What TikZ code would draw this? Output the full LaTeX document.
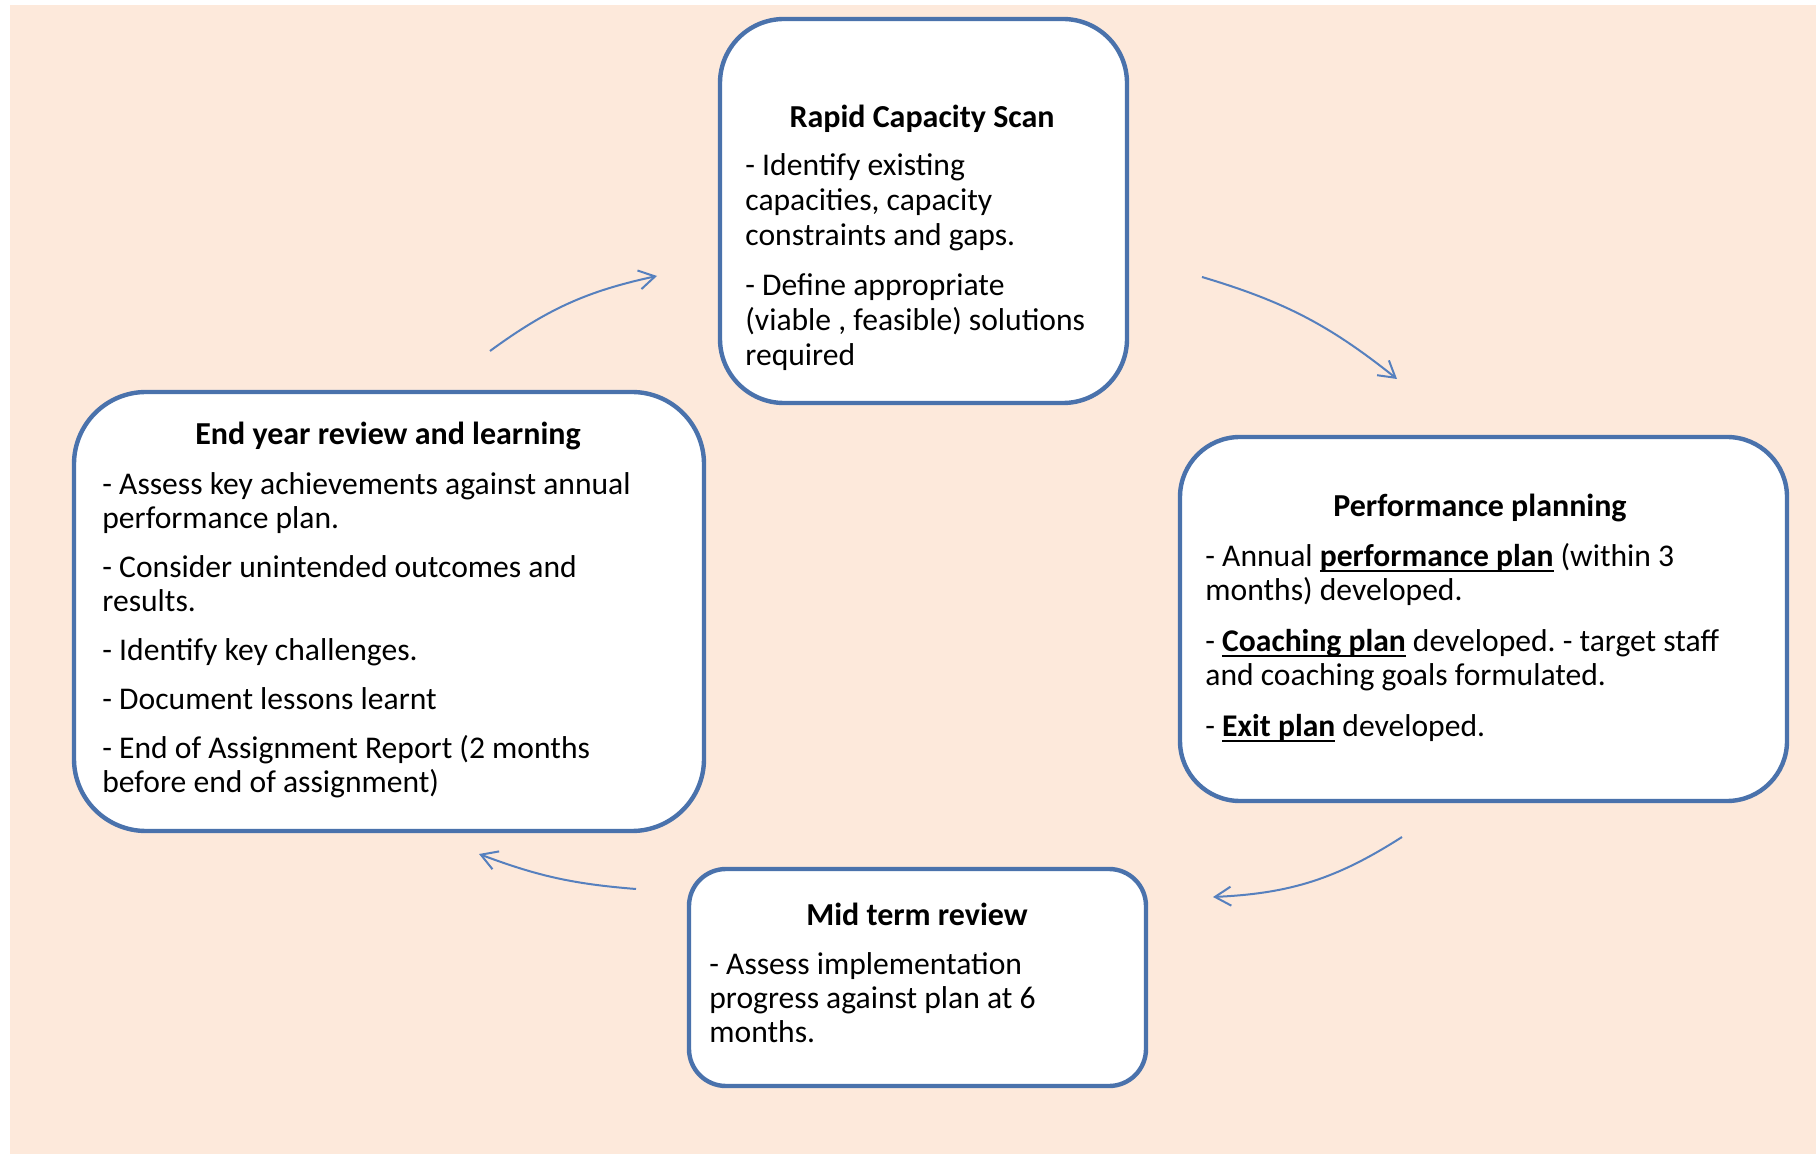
\documentclass[tikz,border=0pt]{standalone}
\usepackage{fontspec}
\setmainfont{Carlito}
\usetikzlibrary{arrows.meta}
\definecolor{bgpeach}{RGB}{253,233,219}
\definecolor{boxline}{RGB}{74,114,172}
\definecolor{arrowc}{RGB}{86,128,190}
\newsavebox\bulbox
\newcommand{\bul}[1]{\sbox\bulbox{\textbf{#1}}\usebox\bulbox\llap{\rule[-3pt]{\wd\bulbox}{0.9pt}}}
\frenchspacing
\begin{document}
\begin{tikzpicture}[x=0.5pt,y=-0.5pt,
  stagebox/.style={draw=boxline, line width=2.2pt, fill=white, inner sep=0pt, rectangle},
  stagetitle/.style={anchor=base, font=\fontsize{16}{17.5}\selectfont\bfseries, inner sep=0pt},
  stagebody/.style={anchor=north west, align=left, font=\fontsize{15.8}{17}\selectfont, inner sep=0pt},
  cyclearrow/.style={draw=arrowc, line width=1pt, -{Straight Barb[length=8pt,width=9.5pt]}}]
\useasboundingbox (0,0) rectangle (1816,1154);
\fill[bgpeach] (10,5) rectangle (1816,1154);

% boxes
\node[stagebox, rounded corners=32pt, minimum width=203.5pt, minimum height=192pt] (scan) at (923.5,211) {};
\node[stagebox, rounded corners=36pt, minimum width=315pt, minimum height=219.5pt] (endyear) at (389,611.5) {};
\node[stagebox, rounded corners=30pt, minimum width=303.5pt, minimum height=182pt] (plan) at (1483.5,619) {};
\node[stagebox, rounded corners=18.5pt, minimum width=228.5pt, minimum height=108.5pt] (mid) at (917.5,977.5) {};

% titles
\node[stagetitle] (scantitle) at (922,128) {Rapid Capacity Scan};
\node[stagetitle] (endyeartitle) at (388,445) {End year review and learning};
\node[stagetitle] (plantitle) at (1480,517) {Performance planning};
\node[stagetitle] (midtitle) at (917,925) {Mid term review};

% bodies
\node[stagebody, font=\fontsize{15.8}{17.5}\selectfont] (scanbody) at (745,151) {\strut- Identify existing\\ capacities, capacity\\ constraints and gaps.\\[7.5pt] - Define appropriate\\ (viable , feasible) solutions\\ required};
\node[stagebody] (endyearbody) at (102,470) {\strut- Assess key achievements against annual\\ performance plan.\\[7.5pt] - Consider unintended outcomes and\\ results.\\[7.5pt] - Identify key challenges.\\[7.5pt] - Document lessons learnt\\[7.5pt] - End of Assignment Report (2 months\\ before end of assignment)};
\node[stagebody] (planbody) at (1205,542) {\strut- Annual \bul{performance plan} (within 3\\ months) developed.\\[8.5pt] - \bul{Coaching plan} developed. - target staff\\ and coaching goals formulated.\\[8.5pt] - \bul{Exit plan} developed.};
\node[stagebody] (midbody) at (709,950) {\strut- Assess implementation\\ progress against plan at 6\\ months.};

% arrow ends
\coordinate (a1s) at (490,351);
\coordinate (a1e) at (657,276);
\coordinate (a2s) at (1202,277);
\coordinate (a2e) at (1397,379);
\coordinate (a3s) at (1402,837);
\coordinate (a3e) at (1213,897);
\coordinate (a4s) at (636,889);
\coordinate (a4e) at (479,854);

\draw[cyclearrow] (a1s) to[bend left=12] (a1e);
\draw[cyclearrow] (a2s) to[bend left=11] (a2e);
\draw[cyclearrow] (a3s) to[bend left=15] (a3e);
\draw[cyclearrow] (a4s) to[bend left=8] (a4e);
\end{tikzpicture}
\end{document}
